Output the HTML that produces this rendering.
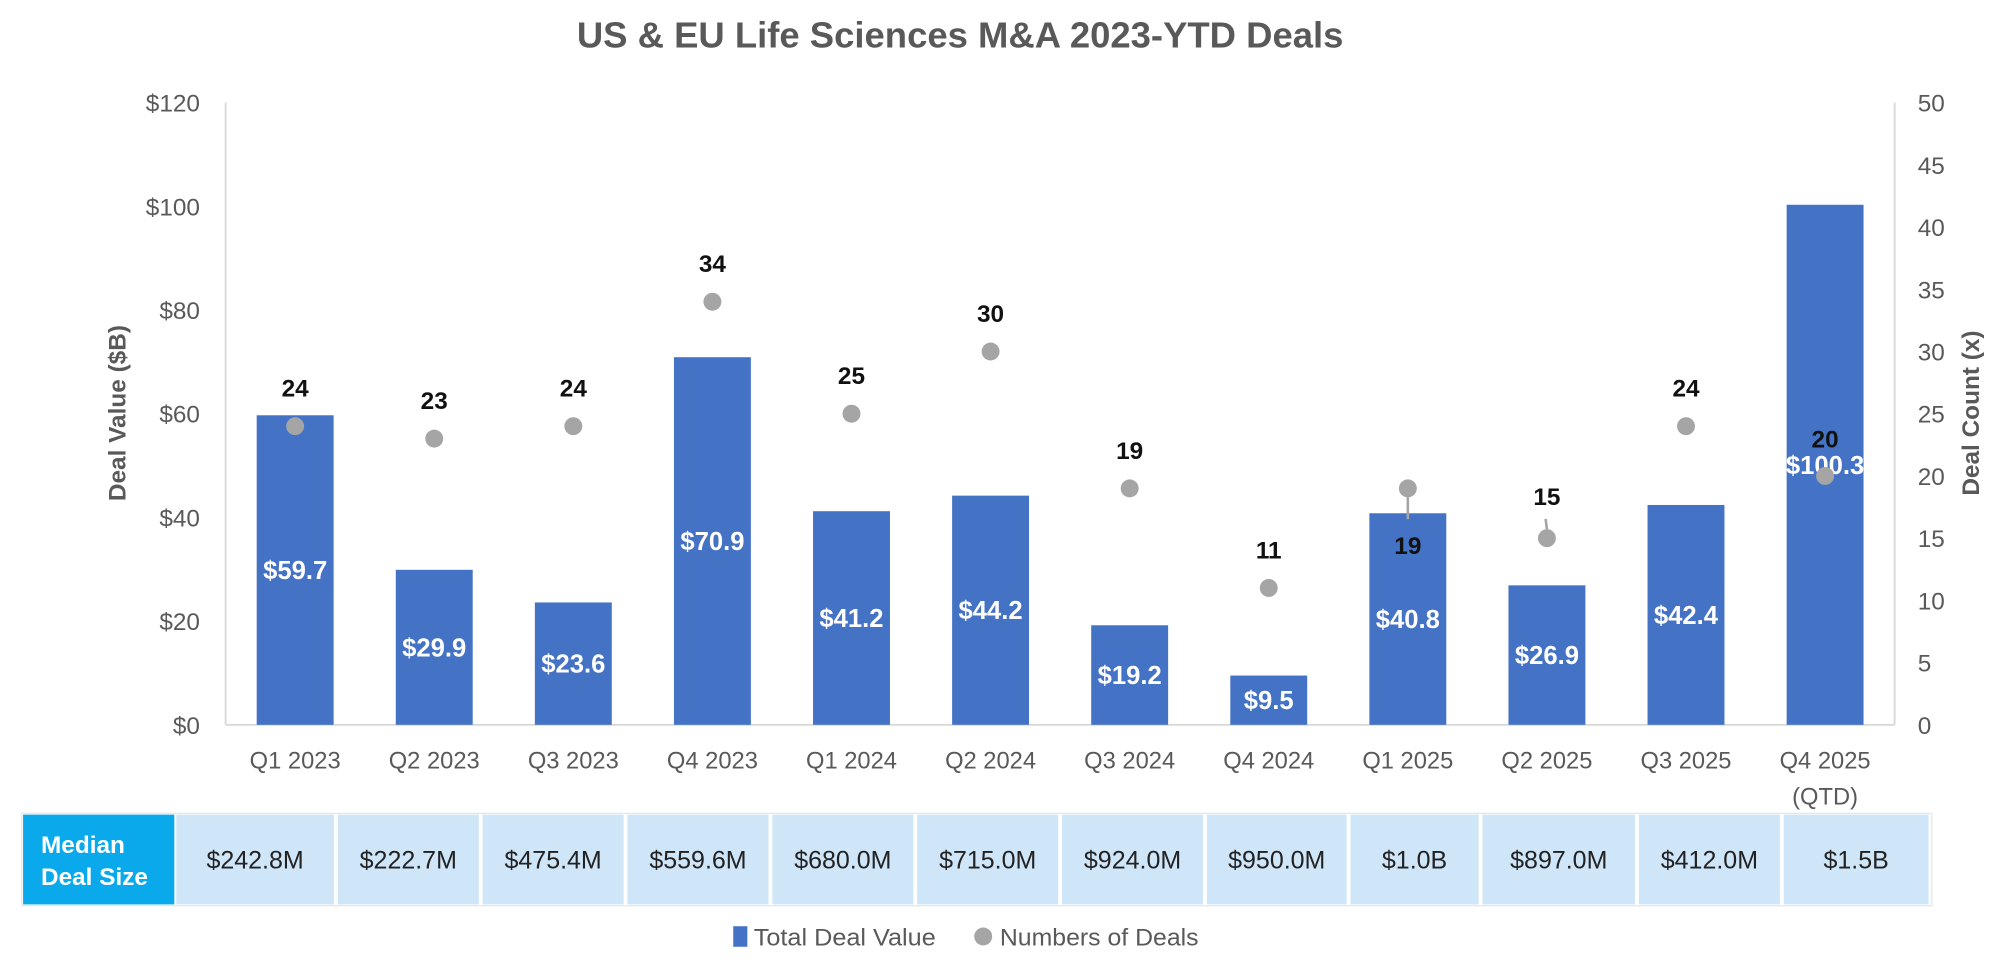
<!DOCTYPE html>
<html><head><meta charset="utf-8"><style>
html,body{margin:0;padding:0;background:#fff;}
svg{display:block;font-family:"Liberation Sans",sans-serif;}
</style></head><body>
<svg id="chart" width="2010" height="966" viewBox="0 0 1568 753" preserveAspectRatio="none" xmlns="http://www.w3.org/2000/svg">
<text x="749" y="37" text-anchor="middle" font-size="28" font-weight="bold" fill="#595959" textLength="598" lengthAdjust="spacingAndGlyphs">US &amp; EU Life Sciences M&amp;A 2023-YTD Deals</text>
<g id="axes"></g><g id="bars"></g><g id="dots"></g><g id="table"></g>
<text transform="translate(98,322) rotate(-90)" text-anchor="middle" font-size="19" font-weight="bold" fill="#595959">Deal Value ($B)</text>
<text transform="translate(1544,322) rotate(-90)" text-anchor="middle" font-size="19" font-weight="bold" fill="#595959">Deal Count (x)</text>
<g>
<rect x="572" y="722" width="11" height="16" fill="#4472c4"/>
<text x="588" y="737" font-size="19" fill="#595959" textLength="142" lengthAdjust="spacingAndGlyphs">Total Deal Value</text>
<circle cx="767" cy="730" r="7" fill="#a5a5a5"/>
<text x="780" y="737" font-size="19" fill="#595959" textLength="155" lengthAdjust="spacingAndGlyphs">Numbers of Deals</text>
</g>
</svg>
<script>
const categories=["Q1 2023","Q2 2023","Q3 2023","Q4 2023","Q1 2024","Q2 2024","Q3 2024","Q4 2024","Q1 2025","Q2 2025","Q3 2025","Q4 2025"];
const dealValues=[59.7,29.9,23.6,70.9,41.2,44.2,19.2,9.5,40.8,26.9,42.4,100.3];
const dealCounts=[24,23,24,34,25,30,19,11,19,15,24,20];
const medians=["$242.8M","$222.7M","$475.4M","$559.6M","$680.0M","$715.0M","$924.0M","$950.0M","$1.0B","$897.0M","$412.0M","$1.5B"];
const leftTicks=[0,20,40,60,80,100,120];
const rightTicks=[0,5,10,15,20,25,30,35,40,45,50];
const NS="http://www.w3.org/2000/svg";
const X0=176,X1=1478,Y0=565,Y1=80;
const band=(X1-X0)/categories.length;
const xc=i=>X0+band*(i+0.5);
const yL=v=>Y0-(v/120)*(Y0-Y1);
const yR=v=>Y0-(v/50)*(Y0-Y1);
function mk(tag,attrs,parent,txt){const e=document.createElementNS(NS,tag);for(const k in attrs)e.setAttribute(k,attrs[k]);if(txt!==undefined)e.textContent=txt;parent.appendChild(e);return e;}
const axes=document.getElementById('axes');
let e=mk('line',{x1:X0,y1:Y1,x2:X0,y2:Y0,stroke:'#d9d9d9','stroke-width':1.5},axes);


e=mk('line',{x1:X1,y1:Y1,x2:X1,y2:Y0,stroke:'#d9d9d9','stroke-width':1.5},axes);


e=mk('line',{x1:X0,y1:Y0,x2:X1,y2:Y0,stroke:'#d9d9d9','stroke-width':1.5},axes);


leftTicks.forEach(v=>{const t=mk('text',{x:156,y:yL(v)+7,'text-anchor':'end','font-size':19,fill:'#595959'},axes,'$'+v);

});
rightTicks.forEach(v=>{const t=mk('text',{x:1496,y:yR(v)+7,'font-size':19,fill:'#595959'},axes,String(v));

});
categories.forEach((c,i)=>{const t=mk('text',{x:xc(i),y:599,'text-anchor':'middle','font-size':18.5,fill:'#595959'},axes,c);

});
e=mk('text',{x:xc(11),y:627,'text-anchor':'middle','font-size':18.5,fill:'#595959'},axes,'(QTD)');


const bars=document.getElementById('bars');
dealValues.forEach((v,i)=>{const top=yL(v);
const r=mk('rect',{x:xc(i)-30,y:top,width:60,height:Y0-top,fill:'#4472c4'},bars);


const t=mk('text',{x:xc(i),y:(top+Y0)/2+7,'text-anchor':'middle','font-size':20,'font-weight':'bold',fill:'#fff'},bars,'$'+v.toFixed(1));

});
const dots=document.getElementById('dots');
dealCounts.forEach((v,i)=>{const cy=yR(v);
let ly=cy-23;
if(i===8){ly=cy+51;const l=mk('line',{x1:xc(i),y1:cy,x2:xc(i),y2:cy+24,stroke:'#a5a5a5','stroke-width':2},dots);

}
if(i===9){ly=cy-26;const l=mk('line',{x1:xc(i)-1,y1:cy-15,x2:xc(i),y2:cy-7,stroke:'#a5a5a5','stroke-width':2},dots);

}
if(i===11){ly=cy-22;}
const c=mk('circle',{cx:xc(i),cy:cy,r:7,fill:'#a5a5a5'},dots);


const t=mk('text',{x:xc(i),y:ly,'text-anchor':'middle','font-size':19,'font-weight':'bold',fill:'#111'},dots,String(v));

});
const tb=document.getElementById('table');
const edges=[18,136,262,375,488,601,714,827,940,1052,1155,1277,1390,1506];
e=mk('rect',{x:17,y:634,width:1490,height:72,fill:'#fff',stroke:'#e6e6e6','stroke-width':1},tb);


e=mk('rect',{x:18,y:635,width:118,height:70,fill:'#0aa9ec'},tb);


e=mk('text',{x:32,y:665,'font-size':19,'font-weight':'bold',fill:'#fff'},tb,'Median');


e=mk('text',{x:32,y:690,'font-size':19,'font-weight':'bold',fill:'#fff'},tb,'Deal Size');


medians.forEach((m,i)=>{const a=edges[i+1]+1.5,b=edges[i+2]-1.5;
const r=mk('rect',{x:a,y:635,width:b-a,height:70,fill:'#cfe5f8'},tb);


const t=mk('text',{x:(a+b)/2,y:677,'text-anchor':'middle','font-size':19.5,fill:'#222'},tb,m);

});
</script>
</body></html>
